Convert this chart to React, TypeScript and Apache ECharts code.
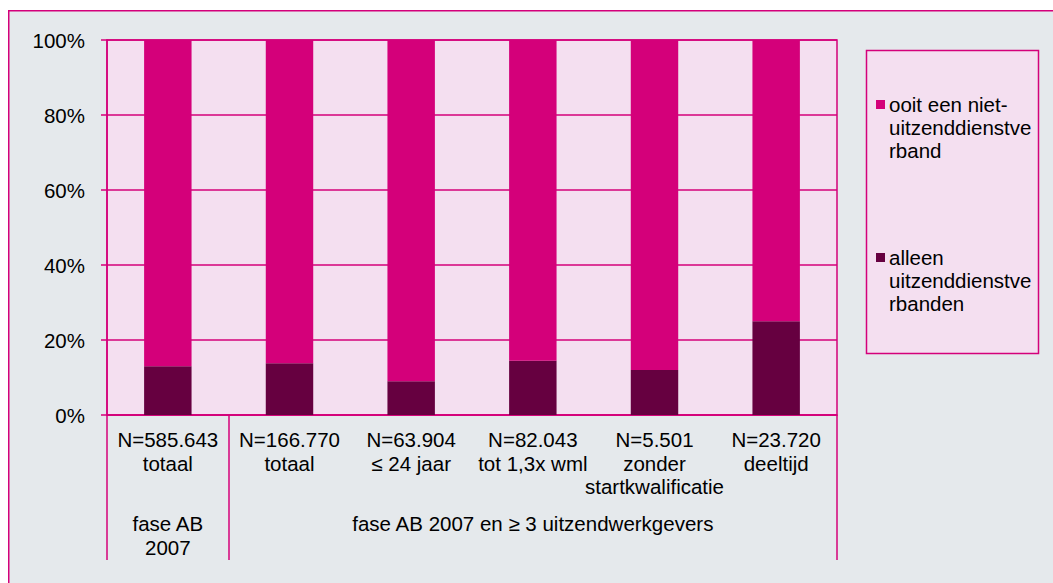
import React, { useEffect, useRef } from 'react';
import * as echarts from 'echarts';

const categories = [
  'N=585.643\ntotaal',
  'N=166.770\ntotaal',
  'N=63.904\n≤ 24 jaar',
  'N=82.043\ntot 1,3x wml',
  'N=5.501\nzonder\nstartkwalificatie',
  'N=23.720\ndeeltijd',
];
const groupLabels = ['fase AB\n2007', 'fase AB 2007 en ≥ 3 uitzendwerkgevers'];
const groupSpans = [1, 5];
const seriesNames = ['alleen uitzenddienstverbanden', 'ooit een niet-uitzenddienstverband'];
const legendLabels = ['ooit een niet-\nuitzenddienstve\nrband', 'alleen\nuitzenddienstve\nrbanden'];
const alleenValues = [13, 13.8, 9, 14.5, 12, 25];
const ooitValues = [87, 86.2, 91, 85.5, 88, 75];

const MAGENTA = '#d4007a';
const DARK = '#660040';
const PINK = '#f4dff0';
const GRAY = '#e5e9ec';
const FONT = '"Liberation Sans", Arial, sans-serif';
const FS = 20.5;

export default function App() {
  const ref = useRef<HTMLDivElement>(null);
  useEffect(() => {
    document.body.style.margin = '0';
    if (!ref.current) return;
    const chart = echarts.init(ref.current, undefined, { renderer: 'svg' });

    const groupAxisData = categories.map(() => '');
    const groupStarts: number[] = [];
    let start = 0;
    groupSpans.forEach((span, i) => {
      groupStarts.push(start);
      groupAxisData[start + Math.floor(span / 2)] = groupLabels[i];
      start += span;
    });

    const legendColors = [MAGENTA, DARK];
    const legendTops = [100, 253];
    const legendGraphics: any[] = [
      {
        type: 'rect',
        shape: { x: 866.5, y: 50.5, width: 172, height: 303 },
        style: { fill: PINK, stroke: MAGENTA, lineWidth: 1.5 },
      },
    ];
    legendLabels.forEach((lab, i) => {
      legendGraphics.push({
        type: 'rect',
        shape: { x: 876, y: legendTops[i], width: 9, height: 9 },
        style: { fill: legendColors[i] },
      });
      legendGraphics.push({
        type: 'text',
        x: 889,
        y: legendTops[i] + 4.5 - 11.5,
        style: {
          text: lab,
          font: `${FS}px ${FONT}`,
          fill: '#000',
          lineHeight: 23,
          verticalAlign: 'top',
          align: 'left',
        },
      });
    });

    chart.setOption({
      animation: false,
      backgroundColor: GRAY,
      textStyle: { fontFamily: FONT },
      grid: {
        left: 107,
        right: 216,
        top: 40,
        bottom: 168,
        show: true,
        backgroundColor: PINK,
        borderColor: MAGENTA,
        borderWidth: 1.5,
        containLabel: false,
      },
      xAxis: [
        {
          type: 'category',
          data: categories,
          position: 'bottom',
          axisLine: { show: true, lineStyle: { color: MAGENTA, width: 1.5 } },
          axisTick: {
            show: true,
            alignWithLabel: false,
            length: 145,
            interval: (index: number) => groupStarts.indexOf(index) >= 0,
            lineStyle: { color: MAGENTA, width: 1.5 },
          },
          axisLabel: {
            interval: 0,
            color: '#000',
            fontSize: FS,
            fontFamily: FONT,
            lineHeight: 23.5,
            margin: 13,
          },
          splitLine: { show: false },
        },
        {
          type: 'category',
          data: groupAxisData,
          position: 'bottom',
          offset: 86,
          axisLine: { show: false },
          axisTick: { show: false },
          axisLabel: {
            interval: 0,
            color: '#000',
            fontSize: FS,
            fontFamily: FONT,
            lineHeight: 24,
            margin: 10,
          },
          splitLine: { show: false },
        },
      ],
      yAxis: {
        type: 'value',
        min: 0,
        max: 100,
        interval: 20,
        axisLine: { show: true, lineStyle: { color: MAGENTA, width: 1.5 } },
        axisTick: { show: true, length: 6, lineStyle: { color: MAGENTA, width: 1.5 } },
        axisLabel: {
          formatter: '{value}%',
          color: '#000',
          fontSize: FS,
          fontFamily: FONT,
          margin: 22,
        },
        splitLine: { show: true, lineStyle: { color: MAGENTA, width: 1.5 } },
      },
      series: [
        {
          name: seriesNames[0],
          type: 'bar',
          stack: 'total',
          barWidth: '39%',
          data: alleenValues,
          itemStyle: { color: DARK },
        },
        {
          name: seriesNames[1],
          type: 'bar',
          stack: 'total',
          barWidth: '39%',
          data: ooitValues,
          itemStyle: { color: MAGENTA },
        },
      ],
      graphic: [
        { type: 'rect', shape: { x: 0, y: 0, width: 1053, height: 10 }, style: { fill: '#fff' } },
        { type: 'rect', shape: { x: 0, y: 0, width: 8, height: 583 }, style: { fill: '#fff' } },
        {
          type: 'polyline',
          shape: { points: [[8.75, 583], [8.75, 10.75], [1053, 10.75]] },
          style: { stroke: MAGENTA, lineWidth: 1.5, fill: 'none' },
        },
        ...legendGraphics,
      ],
    });
    return () => chart.dispose();
  }, []);
  return (
    <div
      ref={ref}
      style={{ position: 'fixed', left: 0, top: 0, width: 1053, height: 583, background: '#fff' }}
    />
  );
}
